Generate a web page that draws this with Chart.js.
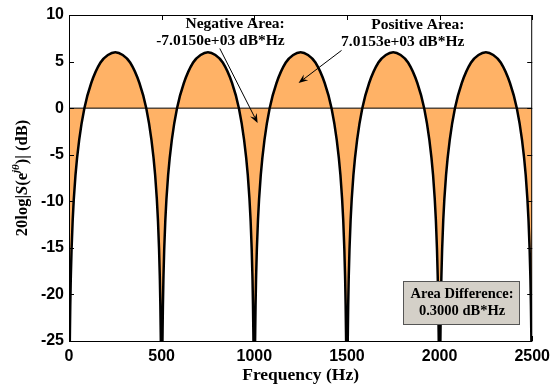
<!DOCTYPE html>
<html>
<head>
<meta charset="utf-8">
<script src="https://cdn.jsdelivr.net/npm/chart.js@4.4.0/dist/chart.umd.min.js"></script>
<style>
    html, body { margin: 0; padding: 0; background: #fff; }
</style>
</head>
<body>
<canvas id="chartMag" width="556" height="387"></canvas>
<script>
// curva de magnitude (Hz, dB)
const freqHz = [
    0, 2, 5, 10, 20, 35, 55, 83, 120, 170, 210, 250, 290, 330, 380, 417, 445, 465, 480, 490, 495, 498,
    500, 502, 505, 510, 520, 535, 555, 583, 620, 670, 710, 750, 790, 830, 880, 917, 945, 965, 980, 990, 995, 998,
    1000, 1002, 1005, 1010, 1020, 1035, 1055, 1083, 1120, 1170, 1210, 1250, 1290, 1330, 1380, 1417, 1445, 1465, 1480, 1490, 1495, 1498,
    1500, 1502, 1505, 1510, 1520, 1535, 1555, 1583, 1620, 1670, 1710, 1750, 1790, 1830, 1880, 1917, 1945, 1965, 1980, 1990, 1995, 1998,
    2000, 2002, 2005, 2010, 2020, 2035, 2055, 2083, 2120, 2170, 2210, 2250, 2290, 2330, 2380, 2417, 2445, 2465, 2480, 2490, 2495, 2498,
    2500
];
const levelDb = [
    -50, -32, -24, -18, -12, -7.2, -3.4, 0, 2.7, 4.9, 5.7, 6.0, 5.7, 4.9, 2.7, 0, -3.4, -7.2, -12, -18, -24, -32,
    -50, -32, -24, -18, -12, -7.2, -3.4, 0, 2.7, 4.9, 5.7, 6.0, 5.7, 4.9, 2.7, 0, -3.4, -7.2, -12, -18, -24, -32,
    -50, -32, -24, -18, -12, -7.2, -3.4, 0, 2.7, 4.9, 5.7, 6.0, 5.7, 4.9, 2.7, 0, -3.4, -7.2, -12, -18, -24, -32,
    -50, -32, -24, -18, -12, -7.2, -3.4, 0, 2.7, 4.9, 5.7, 6.0, 5.7, 4.9, 2.7, 0, -3.4, -7.2, -12, -18, -24, -32,
    -50, -32, -24, -18, -12, -7.2, -3.4, 0, 2.7, 4.9, 5.7, 6.0, 5.7, 4.9, 2.7, 0, -3.4, -7.2, -12, -18, -24, -32,
    -50
];
const xTicks = [0, 500, 1000, 1500, 2000, 2500];
const yTicks = [-25, -20, -15, -10, -5, 0, 5, 10];

const negLabel = ['Negative Area:', '-7.0150e+03 dB*Hz'];
const posLabel = ['Positive Area:', '7.0153e+03 dB*Hz'];
const diffLabel = ['Area Difference:', '0.3000 dB*Hz'];

const serif = '"Liberation Serif", "Times New Roman", serif';
const sans = '"Liberation Sans", Arial, sans-serif';

function arrow(ctx, x1, y1, x2, y2) {
    const ang = Math.atan2(y2 - y1, x2 - x1);
    const len = 10, w = 0.38;
    ctx.beginPath();
    ctx.moveTo(x1, y1);
    ctx.lineTo(x2 - Math.cos(ang) * 6, y2 - Math.sin(ang) * 6);
    ctx.stroke();
    ctx.beginPath();
    ctx.moveTo(x2, y2);
    ctx.lineTo(x2 - len * Math.cos(ang - w), y2 - len * Math.sin(ang - w));
    ctx.lineTo(x2 - 6 * Math.cos(ang), y2 - 6 * Math.sin(ang));
    ctx.lineTo(x2 - len * Math.cos(ang + w), y2 - len * Math.sin(ang + w));
    ctx.closePath();
    ctx.fill();
}

const moldura = {
    id: 'moldura',
    afterDatasetsDraw(chart) {
        const { ctx, chartArea: a, scales: { x, y } } = chart;
        ctx.save();

        // caixa dos eixos
        ctx.strokeStyle = '#000';
        ctx.lineWidth = 1;
        ctx.strokeRect(a.left + 0.5, a.top + 0.5, a.right - a.left - 1, a.bottom - a.top);

        // ticks para dentro
        xTicks.forEach(v => {
            const px = Math.round(x.getPixelForValue(v)) + 0.5;
            ctx.beginPath();
            ctx.moveTo(px, a.bottom); ctx.lineTo(px, a.bottom - 5);
            ctx.moveTo(px, a.top); ctx.lineTo(px, a.top + 5);
            ctx.stroke();
        });
        yTicks.forEach(v => {
            const py = Math.round(y.getPixelForValue(v)) + 0.5;
            ctx.beginPath();
            ctx.moveTo(a.left, py); ctx.lineTo(a.left + 5, py);
            ctx.moveTo(a.right, py); ctx.lineTo(a.right - 5, py);
            ctx.stroke();
        });

        // setas
        ctx.fillStyle = '#000';
        ctx.lineWidth = 1;
        arrow(ctx, x.getPixelForValue(814), y.getPixelForValue(6.4), x.getPixelForValue(1018), y.getPixelForValue(-1.6));
        arrow(ctx, x.getPixelForValue(1471), y.getPixelForValue(6.2), x.getPixelForValue(1239), y.getPixelForValue(2.7));

        // textos das áreas
        ctx.font = 'bold 15.5px ' + serif;
        ctx.textAlign = 'right';
        ctx.textBaseline = 'middle';
        ctx.fillText(negLabel[0], x.getPixelForValue(1164), 24);
        ctx.fillText(negLabel[1], x.getPixelForValue(1164), 41);
        ctx.fillText(posLabel[0], x.getPixelForValue(2134), 25);
        ctx.fillText(posLabel[1], x.getPixelForValue(2134), 42);

        // caixa da diferença
        ctx.fillStyle = '#d4d0c8';
        ctx.strokeStyle = '#555';
        ctx.fillRect(403, 281, 116, 43);
        ctx.strokeRect(403.5, 281.5, 116, 43);
        ctx.fillStyle = '#000';
        ctx.textAlign = 'center';
        ctx.font = 'bold 14.5px ' + serif;
        ctx.fillText(diffLabel[0], 462, 294);
        ctx.fillText(diffLabel[1], 462, 311);

        // título do eixo x
        ctx.font = 'bold 17.5px ' + serif;
        ctx.fillText('Frequency (Hz)', (a.left + a.right) / 2, 375);

        // título do eixo y
        ctx.translate(23, (a.top + a.bottom) / 2);
        ctx.rotate(-Math.PI / 2);
        const parts = [
            ['20log|', 'bold 16.5px ' + serif, 0],
            ['S', 'italic bold 16.5px ' + serif, 0],
            ['(e', 'bold 16.5px ' + serif, 0],
            ['jθ', 'italic bold 11px ' + serif, -7],
            [')| (dB)', 'bold 16.5px ' + serif, 0]
        ];
        let total = 0;
        parts.forEach(p => { ctx.font = p[1]; total += ctx.measureText(p[0]).width; });
        let cx = -total / 2;
        ctx.textAlign = 'left';
        parts.forEach(p => {
            ctx.font = p[1];
            ctx.fillText(p[0], cx, p[2]);
            cx += ctx.measureText(p[0]).width;
        });
        ctx.restore();
    }
};

new Chart(document.getElementById('chartMag'), {
    type: 'line',
    data: {
        datasets: [{
            data: freqHz.map((f, i) => ({ x: f, y: levelDb[i] })),
            borderColor: '#000',
            borderWidth: 2.5,
            backgroundColor: '#ffb266',
            fill: { value: 0 },
            pointRadius: 0,
            cubicInterpolationMode: 'monotone',
            order: 0
        }, {
            data: [{ x: 0, y: 0 }, { x: 2500, y: 0 }],
            borderColor: '#000',
            borderWidth: 1,
            pointRadius: 0,
            fill: false,
            order: 1
        }]
    },
    options: {
        responsive: false,
        animation: false,
        layout: { padding: { left: 0, top: 15, right: 23, bottom: 0 } },
        plugins: {
            legend: { display: false },
            tooltip: { enabled: false },
            filler: { drawTime: 'beforeDatasetsDraw' }
        },
        scales: {
            x: {
                type: 'linear',
                min: 0, max: 2500,
                grid: { display: false, drawTicks: false },
                border: { display: false },
                ticks: {
                    stepSize: 500, color: '#000', padding: 6, maxRotation: 0,
                    font: { family: sans, size: 16, weight: 'bold' },
                    callback: v => String(v)
                },
                afterFit: s => { s.height = 46; }
            },
            y: {
                min: -25, max: 10,
                grid: { display: false, drawTicks: false },
                border: { display: false },
                ticks: {
                    stepSize: 5, color: '#000', padding: 5,
                    font: { family: sans, size: 16, weight: 'bold' },
                    callback: v => String(v)
                },
                afterFit: s => { s.width = 69; }
            }
        }
    },
    plugins: [moldura]
});
</script>
</body>
</html>
